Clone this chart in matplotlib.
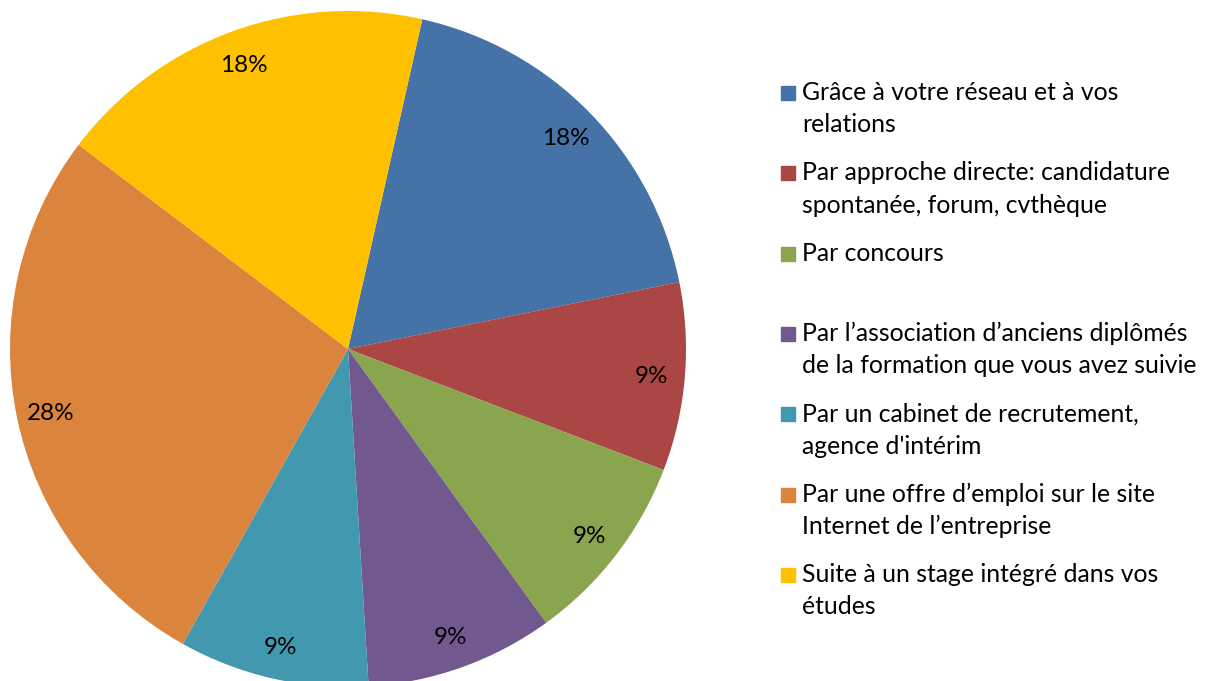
import matplotlib
matplotlib.use("Agg")
import matplotlib.pyplot as plt
from matplotlib.patches import Rectangle

labels = [
    ["Grâce à votre réseau et à vos", "relations"],
    ["Par approche directe: candidature", "spontanée, forum, cvthèque"],
    ["Par concours"],
    ["Par l\u2019association d\u2019anciens diplômés", "de la formation que vous avez suivie"],
    ["Par un cabinet de recrutement,", "agence d'intérim"],
    ["Par une offre d\u2019emploi sur le site", "Internet de l\u2019entreprise"],
    ["Suite à un stage intégré dans vos", "études"],
]
# taille des secteurs et étiquettes affichées
values = [18.3, 9.0, 9.2, 9.0, 9.1, 27.2, 18.2]
pct_labels = ["18%", "9%", "9%", "9%", "9%", "28%", "18%"]
colors = ["#4572A7", "#AA4643", "#89A54E", "#71588F", "#4198AF", "#DB843D", "#FFC000"]

plt.rcParams['font.family'] = ['Lato', 'DejaVu Sans']

W, H = 1213, 681
fig = plt.figure(figsize=(W / 100, H / 100), dpi=100)

# camembert : centre (348, 349) px, rayon 338 px
cx, cy, r = 348, 349, 338
ax = fig.add_axes([(cx - r) / W, (H - cy - r) / H, 2 * r / W, 2 * r / H])
wedges, texts = ax.pie(values, colors=colors, startangle=77.3, counterclock=False,
                       labels=pct_labels, labeldistance=0.9,
                       textprops={'fontsize': 17.5, 'color': 'black'},
                       wedgeprops={'linewidth': 0})
for t in texts:
    t.set_ha('center')
    t.set_va('center_baseline')
ax.set_xlim(-1, 1)
ax.set_ylim(-1, 1)
ax.set_aspect('equal')
ax.axis('off')

# légende manuelle (carré aligné sur la première ligne)
for i, (lab, c) in enumerate(zip(labels, colors)):
    base = 100 + i * 80.3
    fig.patches.append(Rectangle((781 / W, (H - base) / H), 14 / W, 14 / H,
                                 transform=fig.transFigure, color=c))
    for j, line in enumerate(lab):
        fig.text(802 / W, (H - base - j * 32.5) / H, line, fontsize=17.8,
                 va='baseline', ha='left', transform=fig.transFigure)

fig.savefig("out.png", dpi=100)
